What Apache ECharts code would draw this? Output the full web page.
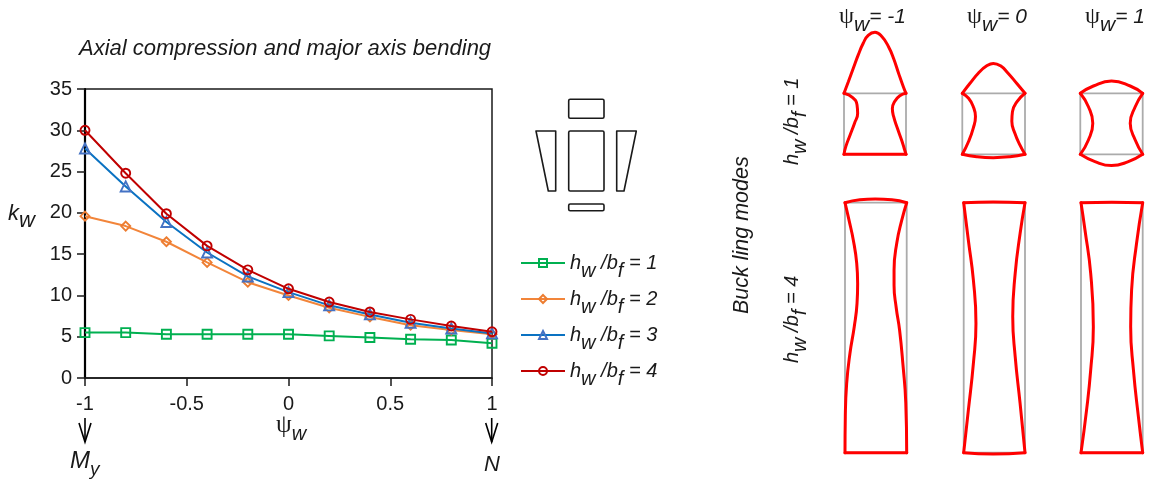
<!DOCTYPE html>
<html><head><meta charset="utf-8">
<style>html,body{margin:0;padding:0;background:#fff}#c{width:1153px;height:483px}</style>
<script src="https://cdn.jsdelivr.net/npm/echarts@6/dist/echarts.min.js"></script>
</head><body><div id="c"></div>
<script>
const psi = [-1,-0.8,-0.6,-0.4,-0.2,0,0.2,0.4,0.6,0.8,1];
const kw1 = [5.5,5.5,5.3,5.3,5.3,5.3,5.1,4.9,4.7,4.6,4.2];
const kw2 = [19.6,18.4,16.5,14,11.6,10,8.5,7.4,6.4,5.8,5.3];
const kw3 = [27.8,23.2,18.9,15.2,12.3,10.4,8.8,7.7,6.7,6,5.4];
const kw4 = [30,24.8,19.9,16,13.1,10.8,9.2,8,7.1,6.3,5.6];

const ratios = [1,2,3,4];

// Buckling outlines, in fractions of each panel's reference rectangle: [across, up]
const squareBox = [[0,0],[1,0],[1,1],[0,1],[0,0]];
const modeA1 = [
 [[0,1],[.07,1.19],[.15,1.41],[.23,1.63],[.31,1.82],[.39,1.95],[.5,2],[.61,1.93],[.72,1.76],[.8,1.57],[.88,1.33],[.96,1.1],[1,1]],
 [[1,1],[.9,.96],[.82,.87],[.78,.75],[.8,.62],[.86,.43],[.93,.23],[.97,.1],[1,0]],
 [[0,0],[1,0]],
 [[0,0],[.03,.13],[.1,.32],[.17,.51],[.22,.67],[.21,.81],[.14,.93],[0,1]]
];
const modeB1 = [
 [[0,1],[.12,1.16],[.255,1.33],[.39,1.45],[.495,1.49],[.61,1.45],[.73,1.33],[.87,1.16],[1,1]],
 [[1,1],[.87,.86],[.8,.7],[.79,.54],[.84,.34],[.92,.15],[1,0]],
 [[0,0],[.23,-.04],[.495,-.055],[.76,-.04],[1,0]],
 [[0,0],[.1,.21],[.175,.43],[.21,.62],[.175,.78],[.1,.92],[0,1]]
];
const modeC1 = [
 [[0,1],[.21,1.12],[.5,1.2],[.8,1.12],[1,1]],
 [[1,1],[.88,.78],[.8,.51],[.88,.235],[1,0]],
 [[0,0],[.235,-.12],[.5,-.185],[.77,-.12],[1,0]],
 [[0,0],[.13,.235],[.2,.51],[.13,.78],[0,1]]
];
const modeA2 = [
 [[0,1],[.24,1.012],[.49,1.015],[.76,1.012],[1,1]],
 [[1,1],[.92,.93],[.84,.84],[.795,.73],[.795,.67],[.83,.58],[.885,.49],[.94,.35],[.985,.2],[1,0]],
 [[0,0],[1,0]],
 [[0,0],[.005,.144],[.027,.277],[.08,.397],[.15,.504],[.195,.597],[.205,.677],[.19,.757],[.135,.85],[.065,.93],[0,1]]
];
const modeB2 = [
 [[0,1],[.48,1.003],[1,1]],
 [[1,1],[.92,.877],[.84,.717],[.8,.544],[.84,.384],[.92,.197],[1,0]],
 [[0,0],[.48,-.005],[1,0]],
 [[0,0],[.076,.17],[.158,.357],[.2,.517],[.158,.69],[.076,.85],[0,1]]
];
const modeC2 = [
 [[0,1],[.5,1.002],[1,1]],
 [[1,1],[.9,.837],[.82,.65],[.805,.504],[.85,.33],[.93,.144],[1,0]],
 [[0,0],[1,0]],
 [[0,0],[.09,.17],[.157,.33],[.2,.504],[.157,.717],[.065,.89],[0,1]]
];

const FONT = '"Liberation Sans", Arial, sans-serif';
const INK = '#1a1a1a';
const RED = '#ff0000', GREY = '#ababab';

const panels = [
 {m:modeA1,l:844,t:93.3,w:62,h:61},
 {m:modeB1,l:962.3,t:93.3,w:62.7,h:61},
 {m:modeC1,l:1080.3,t:93.3,w:62.4,h:61},
 {m:modeA2,l:845,t:202.7,w:61.7,h:250},
 {m:modeB2,l:963.7,t:202.7,w:61.3,h:250},
 {m:modeC2,l:1081,t:202.7,w:61.7,h:250}
];

const grids = [{left:85,top:89,width:407,height:289,show:true,borderColor:INK,borderWidth:1.5,backgroundColor:'transparent'}];
const xAxes = [{type:'value',min:-1,max:1,interval:0.5,gridIndex:0,
  axisLine:{show:true,onZero:false,lineStyle:{color:INK,width:1.5}},
  axisTick:{show:true,length:8,lineStyle:{color:INK,width:1.5}},
  axisLabel:{color:INK,fontFamily:FONT,fontSize:20,margin:16,hideOverlap:false,showMinLabel:true,showMaxLabel:true},
  splitLine:{show:false}}];
const yAxes = [{type:'value',min:0,max:35,interval:5,gridIndex:0,
  axisLine:{show:true,onZero:false,lineStyle:{color:'#000',width:2.2}},
  axisTick:{show:true,length:8,lineStyle:{color:INK,width:1.5}},
  axisLabel:{color:INK,fontFamily:FONT,fontSize:20,margin:13,showMinLabel:true,showMaxLabel:true},
  splitLine:{show:false}}];

function zipPsi(v){return psi.map((p,i)=>[p,v[i]]);}
const marks = [
 {d:kw1,line:'#00B050',mark:'#00B050',sym:'rect',size:9},
 {d:kw2,line:'#F2853A',mark:'#ED7D31',sym:'diamond',size:9},
 {d:kw3,line:'#0A72C2',mark:'#4472C4',sym:'triangle',size:10},
 {d:kw4,line:'#C00000',mark:'#C00000',sym:'circle',size:9}
];
const legendName = r => '{i|h}{s|w}{i| /b}{s|f}{i| = '+r+'}';
const series = marks.map((m,i)=>({
  name:'r'+ratios[i],type:'line',xAxisIndex:0,yAxisIndex:0,data:zipPsi(m.d),
  symbol:m.sym,symbolSize:m.size,showSymbol:true,clip:false,z:3+i,
  lineStyle:{color:m.line,width:2},
  itemStyle:{color:'rgba(255,255,255,0)',borderColor:m.mark,borderWidth:1.9},
  animation:false
}));

panels.forEach((p,i)=>{
  const g=i+1;
  grids.push({left:p.l,top:p.t,width:p.w,height:p.h,show:false});
  xAxes.push({type:'value',gridIndex:g,min:0,max:1,show:false});
  yAxes.push({type:'value',gridIndex:g,min:0,max:1,show:false});
  series.push({type:'line',xAxisIndex:g,yAxisIndex:g,data:squareBox,symbol:'none',clip:false,silent:true,
    lineStyle:{color:GREY,width:1.8},z:2,animation:false});
  p.m.forEach(edge=>series.push({type:'line',xAxisIndex:g,yAxisIndex:g,data:edge,symbol:'none',clip:false,silent:true,
    smooth:0.5,lineStyle:{color:RED,width:3,cap:'round'},z:4,animation:false}));
});

const rich = (size,lh,psiExtra)=>({
  i:{fontFamily:FONT,fontStyle:'italic',fontSize:size,fill:INK,color:INK,lineHeight:lh,verticalAlign:'middle'},
  p:{fontFamily:'"Liberation Serif",serif',fontSize:size+psiExtra,fill:INK,color:INK,lineHeight:lh,verticalAlign:'middle'},
  s:{fontFamily:FONT,fontStyle:'italic',fontSize:size,fill:INK,color:INK,lineHeight:lh,verticalAlign:'bottom'},
  m:{fontFamily:FONT,fontStyle:'italic',fontSize:size-5,fill:INK,color:INK,lineHeight:lh,verticalAlign:'bottom'}
});
function label(text,x,y,size,rot,lh,psiExtra){
  return {type:'text',x:x,y:y,rotation:rot||0,z:10,silent:true,
    style:{text:text,rich:rich(size,lh||36,psiExtra===undefined?5:psiExtra),fontFamily:FONT,fontSize:size,fill:INK,align:'left',verticalAlign:'middle'}};
}
function poly(pts){
  return {type:'polygon',silent:true,shape:{points:pts},style:{fill:'none',stroke:INK,lineWidth:1.6,lineJoin:'round'}};
}
function box(x,y,w,h){
  return {type:'rect',silent:true,shape:{x:x,y:y,width:w,height:h,r:1.5},style:{fill:'none',stroke:INK,lineWidth:1.6}};
}
function arrow(x,y0,y1){
  return {type:'polyline',silent:true,shape:{points:[[x,y0],[x,y1]]},style:{stroke:'#000',lineWidth:1.6,fill:'none'}};
}
function arrowHead(x,y0,y1){
  return {type:'polyline',silent:true,shape:{points:[[x-6,y0],[x,y1],[x+6,y0]]},style:{stroke:'#000',lineWidth:1.6,fill:'none'}};
}

const graphics = [
  label('{i|Axial compression and major axis bending}',79,49,22),
  label('{i|k}{s|w}',8,214,22),
  label('{p|ψ}{s|w}',276,425,20,0,38),
  label('{i|M}{m|y}',70,461,24),
  label('{i|N}',484,465,22),
  label('{p|ψ}{s|w}{i|= -1}',839,17,21,0,38,3),
  label('{p|ψ}{s|w}{i|= 0}',967,17,21,0,38,3),
  label('{p|ψ}{s|w}{i|= 1}',1085,17,21,0,38,3),
  label('{i|h}{s|w}{i| /b}{s|f}{i| = 1}',792,165,20,Math.PI/2),
  label('{i|h}{s|w}{i| /b}{s|f}{i| = 4}',792,363,20,Math.PI/2),
  label('{i|Buck ling modes}',742,314,21.5,Math.PI/2),
  box(568.7,99.3,35.3,19),box(568.7,131,35.3,60),box(568.7,204,35.3,6.7),
  poly([[536,131],[555.7,131],[555.7,191],[548.3,191]]),
  poly([[616.7,131],[636.3,131],[624,191],[616.7,191]]),
  arrow(85,418,442),arrowHead(85,423,442),
  arrow(491.7,418,442),arrowHead(491.7,423,442)
];

const chart = echarts.init(document.getElementById('c'),null,{renderer:'canvas'});
chart.setOption({
  animation:false,backgroundColor:'#fff',
  grid:grids,xAxis:xAxes,yAxis:yAxes,series:series,
  legend:{show:true,orient:'vertical',left:520,top:253,padding:0,itemWidth:44,itemHeight:10,itemGap:8,selectedMode:false,
    data:ratios.map(r=>'r'+r),
    formatter:n=>legendName(n.slice(1)),
    textStyle:{color:INK,rich:{
      i:{fontFamily:FONT,fontStyle:'italic',fontSize:20,color:INK,lineHeight:36,verticalAlign:'middle'},
      s:{fontFamily:FONT,fontStyle:'italic',fontSize:20,color:INK,lineHeight:36,verticalAlign:'bottom'}
    }}},
  graphic:graphics
});
</script></body></html>
